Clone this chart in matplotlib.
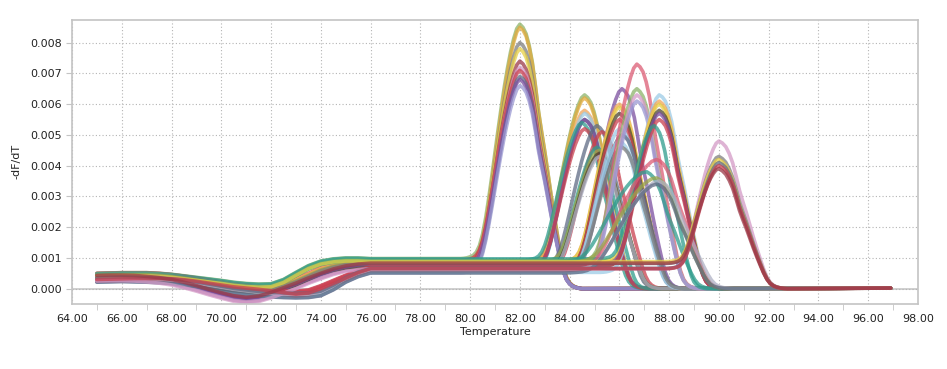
#!/usr/bin/env python3
# -*- coding: utf-8 -*-
"""
Melt curve (-dF/dT vs temperature) for a plate of wells
"""

import matplotlib
matplotlib.use('Agg')  # Non-interactive backend
import matplotlib.pyplot as plt
from matplotlib.ticker import MultipleLocator, FormatStrFormatter

# knot temperatures of the low-temperature baseline (deg C)
base_temps = [65.0, 65.5, 66.0, 66.5, 67.0, 67.5, 68.0, 68.5, 69.0, 69.5, 70.0, 70.5,
              71.0, 71.5, 72.0, 72.5, 73.0, 73.5, 74.0, 74.5, 75.0, 75.5, 76.0]

# baseline -dF/dT, one per family of wells
base_v1 = [0.00045, 0.00046, 0.00047, 0.00047, 0.00047, 0.00045, 0.00042, 0.00037, 0.00032, 0.00027,
           0.00022, 0.00016, 0.00012, 0.00010, 0.00011, 0.00025, 0.00048, 0.00070, 0.00085, 0.00092,
           0.00095, 0.00095, 0.00093]
base_v2 = [0.00040, 0.00041, 0.00042, 0.00042, 0.00042, 0.00040, 0.00036, 0.00031, 0.00025, 0.00018,
           0.00010, 0.00004, 0.00000, -0.00003, -0.00002, 0.00008, 0.00022, 0.00040, 0.00058, 0.00070,
           0.00078, 0.00081, 0.00082]
base_v3 = [0.00035, 0.00036, 0.00036, 0.00035, 0.00032, 0.00028, 0.00022, 0.00013, 0.00002, -0.00010,
           -0.00021, -0.00031, -0.00036, -0.00032, -0.00020, -0.00005, 0.00010, 0.00027, 0.00042, 0.00056,
           0.00066, 0.00072, 0.00075]
base_v4 = [0.00030, 0.00031, 0.00032, 0.00031, 0.00030, 0.00028, 0.00026, 0.00021, 0.00016, 0.00009,
           0.00002, -0.00005, -0.00010, -0.00015, -0.00018, -0.00020, -0.00021, -0.00020, -0.00014, 0.00005,
           0.00030, 0.00048, 0.00060]
base_v5 = [0.00028, 0.00029, 0.00030, 0.00031, 0.00031, 0.00031, 0.00030, 0.00027, 0.00022, 0.00016,
           0.00010, 0.00004, 0.00000, -0.00004, -0.00009, -0.00015, -0.00020, -0.00016, -0.00002, 0.00015,
           0.00032, 0.00050, 0.00063]
base_profiles = {1: base_v1, 2: base_v2, 3: base_v3, 4: base_v4, 5: base_v5}

# melt peak, sampled every 0.125 C around Tm (fraction of peak amplitude)
peak_offsets = [-2.5, -2.375, -2.25, -2.125, -2.0, -1.875, -1.75, -1.625, -1.5, -1.375,
                -1.25, -1.125, -1.0, -0.875, -0.75, -0.625, -0.5, -0.375, -0.25, -0.125,
                0.0,
                0.125, 0.25, 0.375, 0.5, 0.625, 0.75, 0.875, 1.0, 1.125, 1.25,
                1.375, 1.5, 1.625, 1.75, 1.875, 2.0, 2.125, 2.25, 2.375, 2.5]
peak_shape = [0.000, 0.000, 0.001, 0.003, 0.007, 0.013, 0.026, 0.052, 0.098, 0.163,
              0.244, 0.335, 0.432, 0.530, 0.624, 0.713, 0.793, 0.866, 0.927, 0.975,
              1.000,
              0.994, 0.976, 0.937, 0.878, 0.790, 0.693, 0.615, 0.541, 0.458, 0.374,
              0.294, 0.218, 0.145, 0.085, 0.045, 0.024, 0.012, 0.006, 0.002, 0.000]
# fraction of the pre-melt plateau still present at each offset
plateau_left = [1.0, 1.0, 1.0, 1.0, 1.0, 1.0, 1.0, 1.0, 1.0, 1.0,
                1.0, 0.98, 0.95, 0.90, 0.85, 0.80, 0.75, 0.685, 0.62, 0.56,
                0.50,
                0.44, 0.38, 0.31, 0.25, 0.20, 0.15, 0.11, 0.08, 0.06, 0.04,
                0.03, 0.02, 0.015, 0.01, 0.005, 0.0, 0.0, 0.0, 0.0, 0.0]

tail_temp = 96.9
tail_level = 0.00002

# one entry per well: Tm, peak height, rise / fall width factors,
# baseline family, baseline shift, colour
well_tm = [
    82.0, 82.0, 82.0, 82.0, 82.0, 82.0, 82.0, 82.0, 82.0, 82.0,   # product A
    84.6, 84.6, 84.6, 84.6, 84.6, 84.6, 84.5, 84.6,               # product B
    85.1, 85.3, 85.1, 85.2, 85.2, 85.2,                           # product C
    86.1, 86.0, 86.0, 86.0, 86.0, 86.0, 86.1, 86.0, 86.1,         # product D
    86.7, 86.7, 86.7, 86.7,                                       # product E
    87.6, 87.6, 87.6, 87.6, 87.6, 87.6, 87.4,                     # product F
    87.5, 87.1, 87.5, 87.6, 87.5,                                 # product G
    90.0, 90.0, 90.0, 90.0, 90.0, 90.0,                           # product H
]
well_height = [
    0.0086, 0.0085, 0.0080, 0.0078, 0.0074, 0.0072, 0.0071, 0.0069, 0.0068, 0.0066,
    0.0063, 0.0062, 0.0058, 0.0057, 0.0055, 0.0055, 0.0054, 0.0052,
    0.0053, 0.0051, 0.0046, 0.0045, 0.0044, 0.0043,
    0.0065, 0.0060, 0.0059, 0.0057, 0.0055, 0.0052, 0.0050, 0.0048, 0.0046,
    0.0073, 0.0065, 0.0063, 0.0061,
    0.0063, 0.0061, 0.0060, 0.0058, 0.0057, 0.0055, 0.0053,
    0.0042, 0.0038, 0.0036, 0.0035, 0.0034,
    0.0048, 0.0043, 0.0042, 0.0041, 0.0040, 0.0039,
]
well_rise = [
    1.0, 1.0, 1.0, 1.0, 1.0, 1.0, 1.0, 1.0, 1.0, 1.0,
    1.0, 1.0, 1.0, 1.0, 1.0, 1.0, 1.0, 1.0,
    1.0, 1.0, 0.95, 1.0, 1.0, 1.0,
    1.0, 1.0, 1.0, 1.0, 1.0, 1.0, 1.0, 1.0, 1.0,
    1.0, 1.0, 1.0, 1.0,
    1.0, 1.0, 1.0, 1.0, 1.0, 1.0, 0.95,
    1.6, 1.6, 1.6, 1.6, 1.6,
    0.9, 0.9, 0.9, 0.9, 0.9, 0.9,
]
well_fall = [
    1.0, 1.0, 1.0, 1.0, 1.0, 1.0, 1.0, 1.0, 1.0, 1.0,
    1.0, 1.0, 1.0, 1.0, 1.0, 1.0, 1.0, 1.0,
    1.0, 1.0, 0.85, 1.0, 1.0, 1.0,
    1.0, 1.0, 1.0, 1.0, 1.0, 1.0, 1.0, 1.0, 1.0,
    1.0, 1.0, 1.0, 1.0,
    1.0, 1.0, 1.0, 1.0, 1.0, 1.0, 0.85,
    1.15, 1.1, 1.15, 1.2, 1.15,
    1.1, 1.1, 1.1, 1.1, 1.1, 1.1,
]
well_base = [
    1, 2, 2, 1, 3, 3, 2, 4, 3, 4,
    1, 2, 2, 4, 4, 3, 1, 5,
    3, 5, 2, 1, 2, 4,
    3, 2, 1, 2, 5, 4, 4, 4, 2,
    5, 1, 3, 4,
    4, 2, 1, 2, 3, 5, 1,
    5, 1, 2, 4, 4,
    3, 2, 1, 4, 5, 3,
]
well_shift = [
    0.00005, -0.00003, 0.00002, -0.00006, 0.00008, 0.00004, 0.00010, -0.00004, 0.00000, -0.00008,
    -0.00005, 0.00003, 0.00006, -0.00002, 0.00004, -0.00006, 0.00000, 0.00010,
    0.00002, 0.00006, -0.00008, -0.00003, -0.00012, 0.00005,
    0.00003, 0.00008, -0.00004, -0.00010, 0.00012, -0.00005, 0.00000, 0.00006, -0.00008,
    0.00010, -0.00002, -0.00006, 0.00003,
    -0.00007, 0.00001, -0.00002, -0.00010, 0.00005, 0.00009, 0.00004,
    -0.00004, -0.00006, 0.00003, 0.00002, -0.00009,
    -0.00010, 0.00000, -0.00005, 0.00006, 0.00002, 0.00008,
]
well_color = [
    'green', 'gold', 'gray', 'yellow', 'darkred', 'pink', 'red', 'slate', 'purple', 'lavender',
    'green', 'gold', 'orange', 'lightblue', 'slate', 'purple', 'teal', 'red',
    'slate', 'red', 'teal', 'olive', 'brown', 'lavgray',
    'purple', 'orange', 'yellow', 'brown', 'red', 'lightblue', 'slate', 'lightblue', 'gray',
    'rose', 'green', 'pink', 'lavender',
    'lightblue', 'orange', 'yellow', 'brown', 'purple', 'red', 'teal',
    'rose', 'teal', 'olive', 'lavgray', 'slate',
    'pink', 'gray', 'yellow', 'slate', 'red', 'darkred',
]

palette = {
    'green': '#8db46a', 'gold': '#e2a93b', 'gray': '#7f7f7f', 'yellow': '#e6cf45',
    'darkred': '#9b3a48', 'pink': '#d49ac6', 'red': '#c9404f', 'slate': '#5f6b84',
    'purple': '#7b4f9f', 'lavender': '#9a98d2', 'orange': '#f0a55a', 'lightblue': '#9ccbe6',
    'teal': '#2f9c8c', 'olive': '#9aa64a', 'brown': '#4d4530', 'lavgray': '#aeb0c4',
    'rose': '#dc5c74',
}

fig = plt.figure(figsize=(9.47, 3.69), dpi=100)
ax = fig.add_axes([0.076, 0.176, 0.8934, 0.771])

wells = zip(well_tm, well_height, well_rise, well_fall, well_base, well_shift, well_color)
for tm, h, r, f, b, dy, c in wells:
    base = [v + dy for v in base_profiles[b]]
    pre = base[-1]
    xs = list(base_temps) + [tm + o * (r if o < 0 else f) for o in peak_offsets] + [tail_temp]
    ys = base + [pre * s + (h - 0.5 * pre) * p
                 for s, p in zip(plateau_left, peak_shape)] + [tail_level]
    ax.plot(xs, ys, color=palette[c], lw=2.6, alpha=0.75,
            solid_joinstyle='round', solid_capstyle='round')

ax.set_xlim(64, 98)
ax.set_ylim(-0.0005, 0.00875)
ax.xaxis.set_major_locator(MultipleLocator(2))
ax.xaxis.set_minor_locator(MultipleLocator(1))
ax.xaxis.set_major_formatter(FormatStrFormatter('%.2f'))
ax.yaxis.set_major_locator(MultipleLocator(0.001))
ax.yaxis.set_major_formatter(FormatStrFormatter('%.3f'))

ax.grid(True, which='major', color='#b4b4b4', linestyle=(0, (1, 2)), linewidth=0.8)
ax.axhline(0, color='#c8c8c8', lw=1.2, zorder=0.5)
ax.set_axisbelow(True)
for s in ax.spines.values():
    s.set_color('#c4c4c4')
    s.set_linewidth(1.2)

ax.tick_params(axis='x', which='major', length=0, pad=7, labelsize=8, colors='#222222')
ax.tick_params(axis='x', which='minor', length=4, color='#c4c4c4')
ax.tick_params(axis='y', which='major', length=4, color='#c4c4c4', labelsize=8,
               labelcolor='#222222')

ax.set_xlabel('Temperature', fontsize=8, color='#222222', labelpad=2)
ax.set_ylabel('-dF/dT', fontsize=8, color='#222222', labelpad=6)

fig.savefig('out.png', dpi=100)
plt.close(fig)

# EOF
